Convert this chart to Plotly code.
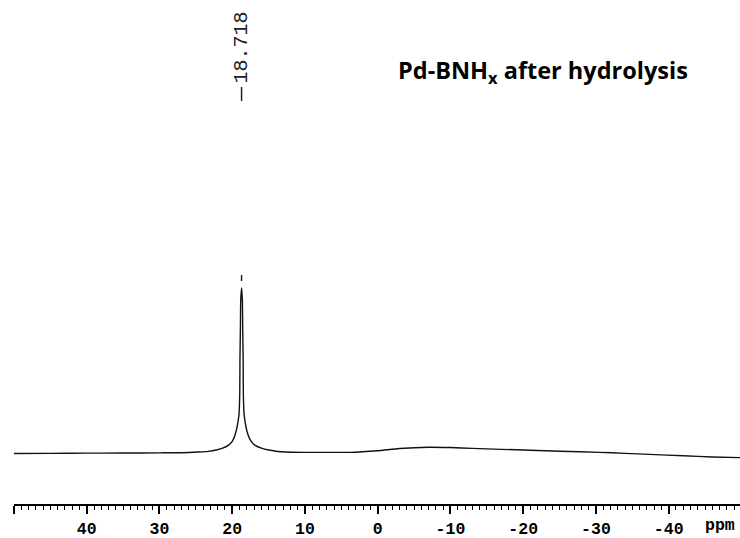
import plotly.graph_objects as go

# Spectrum: chemical shift (ppm) and relative intensity (peak = 100)
ppm = [50.0, 45.0, 40.0, 35.0, 30.0, 27.0, 24.7, 23.3, 22.2, 21.4, 20.5, 20.0,
       19.62, 19.08, 18.97, 18.94, 18.88, 18.83, 18.718, 18.61, 18.56, 18.50,
       18.47, 18.36, 17.82, 17.4, 16.9, 15.9, 15.0, 14.0, 12.7, 10.0, 8.0, 3.8,
       0.0, -3.0, -7.0, -10.0, -13.0, -17.0, -21.0, -25.0, -30.5, -34.0, -37.4,
       -42.0, -46.0, -49.8]
intensity = [-0.3, -0.2, -0.1, 0.0, 0.1, 0.2, 0.6, 1.0, 1.8, 2.8, 4.8, 7.0,
             10.9, 23.0, 35.2, 56.4, 74.5, 92.7, 100.0, 92.7, 74.5, 56.4,
             35.2, 23.0, 10.9, 7.0, 4.8, 2.8, 1.8, 1.1, 0.6, 0.4, 0.4, 0.4,
             1.4, 2.7, 3.5, 3.3, 2.8, 2.2, 1.7, 1.1, 0.4, -0.2, -0.8,
             -1.7, -2.4, -2.8]

peak_ppm = 18.718
peak_label = "18.718"
title_text = "Pd-BNH<sub>x</sub> after hydrolysis"

tick_vals = [50, 40, 30, 20, 10, 0, -10, -20, -30, -40]
tick_text = ["", "40", "30", "20", "10", "0", "-10", "-20", "-30", "-40"]
axis_unit = "ppm"

fig = go.Figure()
fig.add_trace(go.Scatter(x=ppm, y=intensity, mode="lines",
                         line=dict(color="#111111", width=1.4, shape="spline", smoothing=0.6),
                         hoverinfo="skip", showlegend=False))

mono = "Liberation Mono, Courier New, monospace"
H = 504  # plot-area height in pixels

# peak-pick marker above the peak
fig.add_shape(type="line", xref="x", yref="paper", x0=peak_ppm, x1=peak_ppm,
              y0=(H - 275) / H, y1=(H - 281) / H,
              line=dict(color="#222222", width=1.5))
# peak label tick and rotated text
fig.add_shape(type="line", xref="x", yref="paper", x0=peak_ppm, x1=peak_ppm,
              y0=(H - 87) / H, y1=(H - 101) / H,
              line=dict(color="#222222", width=1.5))
fig.add_annotation(x=peak_ppm, xref="x", y=(H - 86) / H, yref="paper",
                   text=peak_label, textangle=-90, showarrow=False,
                   xanchor="center", yanchor="bottom",
                   font=dict(family=mono, size=20, color="#222222"))

# title
fig.add_annotation(x=(396 - 14) / 726, xref="paper", y=(H - 71) / H, yref="paper",
                   text=title_text, showarrow=False, xanchor="left", yanchor="middle",
                   font=dict(family="Open Sans, Lato, sans-serif", size=23.5,
                             color="black", weight="bold"))

# axis unit label
fig.add_annotation(x=-47.0, xref="x", y=-21 / H, yref="paper",
                   text=axis_unit, showarrow=False, xanchor="center", yanchor="middle",
                   font=dict(family=mono, size=16.5, color="black", weight="bold"))

fig.update_xaxes(range=[50, -49.8], showgrid=False, zeroline=False, automargin=False,
                 showline=True, linecolor="black", linewidth=1.5,
                 ticks="outside", ticklen=8, tickwidth=1.5, tickcolor="black",
                 tickmode="array", tickvals=tick_vals, ticktext=tick_text,
                 tickfont=dict(family=mono, size=16.5, color="black", weight="bold"),
                 ticklabelstandoff=0,
                 minor=dict(ticks="outside", ticklen=4, tickwidth=1, tickcolor="black",
                            tickmode="linear", tick0=0, dtick=1, showgrid=False))
fig.update_yaxes(range=[-30.9, 274.5], visible=False, showgrid=False, zeroline=False,
                 automargin=False)

fig.update_layout(width=740, height=538, margin=dict(l=14, r=0, t=0, b=34),
                  paper_bgcolor="white", plot_bgcolor="white")

fig.write_html("out.html", config={"displayModeBar": False},
               post_script="document.body.style.margin='0px';")
